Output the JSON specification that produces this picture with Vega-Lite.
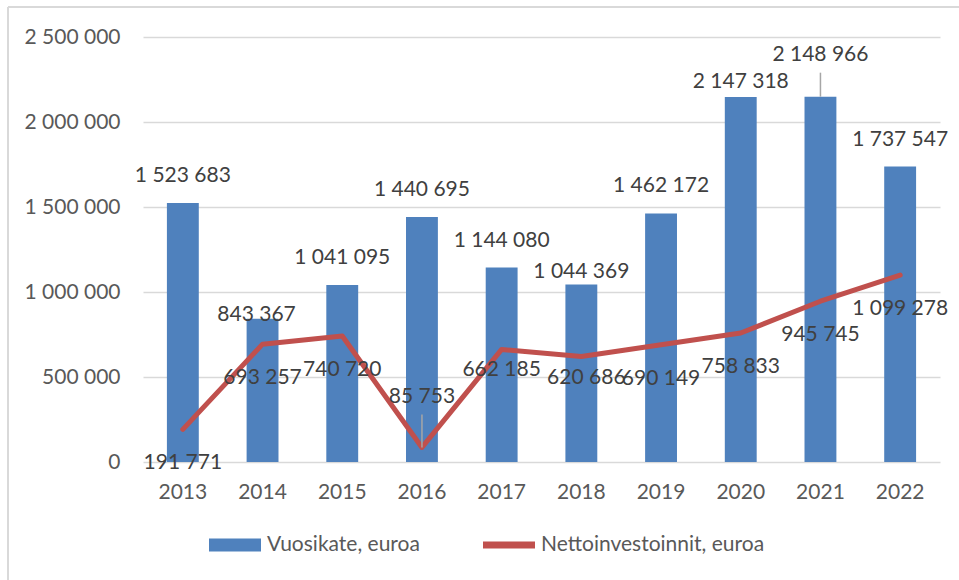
{
  "$schema": "https://vega.github.io/schema/vega-lite/v6.json",
  "autosize": {"type": "none"},
  "padding": {"left": 8, "top": 7, "right": 0, "bottom": 0},
  "width": 951,
  "height": 573,
  "background": "white",
  "config": {
    "locale": {"number": {"decimal": ",", "thousands": " ", "grouping": [3], "currency": ["", " €"]}},
    "view": {"stroke": "#d9d9d9", "strokeWidth": 2, "strokeDash": [951, 1524, 573, 0]},
    "axis": {"labelFont": "Lato", "labelFontSize": 21, "labelColor": "#595959", "gridColor": "#d9d9d9", "gridWidth": 1.5},
    "text": {"font": "Lato", "fontSize": 21, "fill": "#404040", "baseline": "middle", "align": "center"}
  },
  "data": {
    "values": [
      {"year": "2013", "vuosikate": 1523683, "netto": 191771},
      {"year": "2014", "vuosikate": 843367, "netto": 693257},
      {"year": "2015", "vuosikate": 1041095, "netto": 740720},
      {"year": "2016", "vuosikate": 1440695, "netto": 85753},
      {"year": "2017", "vuosikate": 1144080, "netto": 662185},
      {"year": "2018", "vuosikate": 1044369, "netto": 620686},
      {"year": "2019", "vuosikate": 1462172, "netto": 690149},
      {"year": "2020", "vuosikate": 2147318, "netto": 758833},
      {"year": "2021", "vuosikate": 2148966, "netto": 945745},
      {"year": "2022", "vuosikate": 1737547, "netto": 1099278}
    ]
  },
  "encoding": {
    "x": {
      "field": "year", "type": "ordinal",
      "scale": {"range": [135, 932], "paddingInner": 0.6, "paddingOuter": 0.3},
      "axis": {"title": null, "orient": "bottom", "offset": -118, "labelPadding": 19, "ticks": false, "domain": false, "labelAngle": 0, "grid": false}
    }
  },
  "layer": [
    {
      "mark": {"type": "bar"},
      "encoding": {
        "y": {
          "field": "vuosikate", "type": "quantitative",
          "scale": {"domain": [0, 2500000], "range": [455, 30], "nice": false},
          "axis": {"title": null, "orient": "left", "offset": -118, "labelPadding": 6, "ticks": false, "domain": false, "grid": true, "values": [0, 500000, 1000000, 1500000, 2000000, 2500000], "format": ",d"}
        },
        "color": {
          "datum": "Vuosikate, euroa",
          "scale": {"domain": ["Vuosikate, euroa", "Nettoinvestoinnit, euroa"], "range": ["#4f81bd", "#c0504d"]},
          "legend": {
            "title": null, "orient": "none", "legendX": 201, "legendY": 512, "direction": "horizontal",
            "symbolSize": 2704, "labelOffset": 6, "columnPadding": 63, "padding": 0, "labelLimit": 500,
            "labelFont": "Lato", "labelFontSize": 21, "labelColor": "#595959",
            "encode": {
              "symbols": {
                "update": {
                  "shape": {"signal": "datum.value === 'Vuosikate, euroa' ? 'M-1,-0.25H1V0.25H-1Z' : 'M-1,-0.13H1V0.13H-1Z'"},
                  "fill": {"signal": "datum.value === 'Vuosikate, euroa' ? '#4f81bd' : '#c0504d'"},
                  "fillOpacity": {"value": 1},
                  "opacity": {"value": 1},
                  "strokeWidth": {"value": 0}
                }
              }
            }
          }
        }
      }
    },
    {
      "mark": {"type": "line", "strokeWidth": 5, "strokeJoin": "round", "strokeCap": "round"},
      "encoding": {
        "y": {"field": "netto", "type": "quantitative"},
        "color": {"datum": "Nettoinvestoinnit, euroa"}
      }
    },
    {
      "transform": [{"filter": "datum.year == '2021'"}],
      "mark": {"type": "rule", "stroke": "#a6a6a6", "strokeWidth": 1.5, "y2Offset": -24},
      "encoding": {"y": {"field": "vuosikate", "type": "quantitative"}, "y2": {"field": "vuosikate"}}
    },
    {
      "transform": [{"filter": "datum.year == '2016'"}],
      "mark": {"type": "rule", "stroke": "#a6a6a6", "strokeWidth": 1.5, "y2Offset": -33},
      "encoding": {"y": {"field": "netto", "type": "quantitative"}, "y2": {"field": "netto"}}
    },
    {
      "transform": [{"filter": "indexof(['2014','2018','2020','2021'], datum.year) < 0"}],
      "mark": {"type": "text", "dy": -27},
      "encoding": {"y": {"field": "vuosikate", "type": "quantitative"}, "text": {"field": "vuosikate", "type": "quantitative", "format": ",d"}}
    },
    {
      "transform": [{"filter": "datum.year == '2014'"}],
      "mark": {"type": "text", "dy": -4, "dx": -6},
      "encoding": {"y": {"field": "vuosikate", "type": "quantitative"}, "text": {"field": "vuosikate", "type": "quantitative", "format": ",d"}}
    },
    {
      "transform": [{"filter": "datum.year == '2018'"}],
      "mark": {"type": "text", "dy": -12},
      "encoding": {"y": {"field": "vuosikate", "type": "quantitative"}, "text": {"field": "vuosikate", "type": "quantitative", "format": ",d"}}
    },
    {
      "transform": [{"filter": "datum.year == '2020'"}],
      "mark": {"type": "text", "dy": -15},
      "encoding": {"y": {"field": "vuosikate", "type": "quantitative"}, "text": {"field": "vuosikate", "type": "quantitative", "format": ",d"}}
    },
    {
      "transform": [{"filter": "datum.year == '2021'"}],
      "mark": {"type": "text", "dy": -42},
      "encoding": {"y": {"field": "vuosikate", "type": "quantitative"}, "text": {"field": "vuosikate", "type": "quantitative", "format": ",d"}}
    },
    {
      "transform": [{"filter": "indexof(['2016','2017','2018'], datum.year) < 0"}],
      "mark": {"type": "text", "dy": 34},
      "encoding": {"y": {"field": "netto", "type": "quantitative"}, "text": {"field": "netto", "type": "quantitative", "format": ",d"}}
    },
    {
      "transform": [{"filter": "datum.year == '2016'"}],
      "mark": {"type": "text", "dy": -50},
      "encoding": {"y": {"field": "netto", "type": "quantitative"}, "text": {"field": "netto", "type": "quantitative", "format": ",d"}}
    },
    {
      "transform": [{"filter": "datum.year == '2017'"}],
      "mark": {"type": "text", "dy": 21},
      "encoding": {"y": {"field": "netto", "type": "quantitative"}, "text": {"field": "netto", "type": "quantitative", "format": ",d"}}
    },
    {
      "transform": [{"filter": "datum.year == '2018'"}],
      "mark": {"type": "text", "dy": 22, "dx": 5},
      "encoding": {"y": {"field": "netto", "type": "quantitative"}, "text": {"field": "netto", "type": "quantitative", "format": ",d"}}
    }
  ]
}
